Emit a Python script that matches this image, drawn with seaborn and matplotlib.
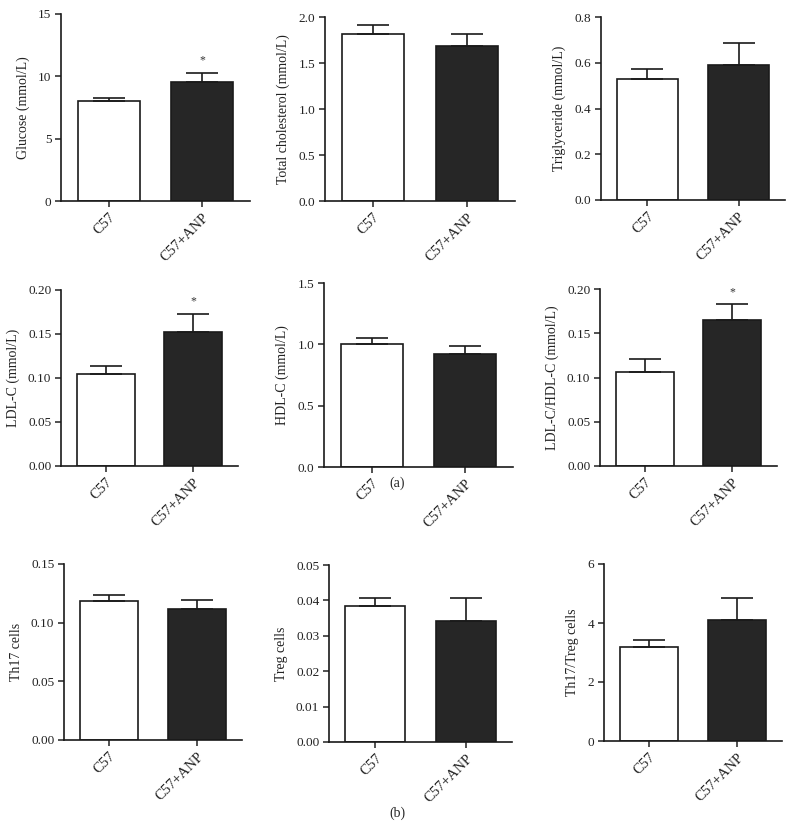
import matplotlib
matplotlib.use("Agg")
import matplotlib.pyplot as plt
import seaborn as sns
import pandas as pd

# Groups shown on every panel
groups = ["C57", "C57+ANP"]

# Mean values and upper SE
glucose = [8.05, 9.55]
glucose_se = [0.21, 0.69]
total_chol = [1.81, 1.684]
total_chol_se = [0.098, 0.131]
triglyceride = [0.527, 0.591]
triglyceride_se = [0.046, 0.094]
ldl = [0.104, 0.1526]
ldl_se = [0.0098, 0.0204]
hdl = [1.006, 0.919]
hdl_se = [0.049, 0.068]
ldl_hdl = [0.1066, 0.1652]
ldl_hdl_se = [0.014, 0.0174]
th17 = [0.1182, 0.1117]
th17_se = [0.0051, 0.0074]
treg = [0.0384, 0.0341]
treg_se = [0.0023, 0.0067]
th17_treg = [3.17, 4.11]
th17_treg_se = [0.26, 0.74]

panels = [
    ("Glucose (mmol/L)", glucose, glucose_se, 15, [0, 5, 10, 15], "{:.0f}", True),
    ("Total cholesterol (mmol/L)", total_chol, total_chol_se, 2.0, [0, 0.5, 1.0, 1.5, 2.0], "{:.1f}", False),
    ("Triglyceride (mmol/L)", triglyceride, triglyceride_se, 0.8, [0, 0.2, 0.4, 0.6, 0.8], "{:.1f}", False),
    ("LDL-C (mmol/L)", ldl, ldl_se, 0.20, [0, 0.05, 0.10, 0.15, 0.20], "{:.2f}", True),
    ("HDL-C (mmol/L)", hdl, hdl_se, 1.5, [0, 0.5, 1.0, 1.5], "{:.1f}", False),
    ("LDL-C/HDL-C (mmol/L)", ldl_hdl, ldl_hdl_se, 0.20, [0, 0.05, 0.10, 0.15, 0.20], "{:.2f}", True),
    ("Th17 cells", th17, th17_se, 0.15, [0, 0.05, 0.10, 0.15], "{:.2f}", False),
    ("Treg cells", treg, treg_se, 0.05, [0, 0.01, 0.02, 0.03, 0.04, 0.05], "{:.2f}", False),
    ("Th17/Treg cells", th17_treg, th17_treg_se, 6, [0, 2, 4, 6], "{:.0f}", False),
]

# axes boxes in pixels: left, top, right, bottom
boxes = [
    (61, 14, 250, 201), (325, 17, 515, 201), (601, 17, 785, 200),
    (61, 290, 238, 466), (324, 283, 513, 467), (600, 289, 777, 466),
    (64, 564, 242, 740), (329, 565, 512, 742), (604, 564, 782, 741),
]

sns.set_style("ticks")
plt.rcParams['font.family'] = ['Liberation Serif', 'DejaVu Serif']

W, H = 794, 839
fig = plt.figure(figsize=(W / 100, H / 100), dpi=100)

for (label, vals, se, top, ticks, fmt, star), (l, t, r, b) in zip(panels, boxes):
    ax = fig.add_axes([l / W, 1 - b / H, (r - l) / W, (b - t) / H])
    df = pd.DataFrame({"group": groups, "value": vals})
    sns.barplot(data=df, x="group", y="value", hue="group",
                palette=["white", "#262626"], edgecolor="#1a1a1a",
                linewidth=1.2, width=0.66, legend=False, ax=ax)
    ax.errorbar(x=[0, 1], y=vals, yerr=[[0, 0], se], fmt="none",
                ecolor="#1a1a1a", elinewidth=1.2, capsize=11.5, capthick=1.2)
    if star:
        ax.text(1, vals[1] + se[1] + top * 0.035, "*", ha="center", va="bottom",
                fontsize=8.5, color="#333333")
    ax.set_xlim(-0.51, 1.51)
    ax.set_ylim(0, top)
    ax.set_yticks(ticks)
    ax.set_yticklabels([fmt.format(v) for v in ticks])
    ax.set_xticks([0, 1])
    ax.set_xticklabels(groups, rotation=45, ha="right", rotation_mode="anchor")
    ax.set_xlabel("")
    ax.set_ylabel(label, fontsize=10, color="#222222", labelpad=6)
    ax.tick_params(axis="both", length=4, width=1.1, colors="#222222", pad=3)
    ax.tick_params(axis="y", labelsize=9.5)
    ax.tick_params(axis="x", labelsize=10.5)
    sns.despine(ax=ax)
    for s in ["left", "bottom"]:
        ax.spines[s].set_linewidth(1.2)
        ax.spines[s].set_color("#1a1a1a")

fig.text(397 / W, 1 - 483 / H, "(a)", ha="center", va="center", fontsize=10)
fig.text(397 / W, 1 - 813 / H, "(b)", ha="center", va="center", fontsize=10)

fig.savefig("out.png", dpi=100)
